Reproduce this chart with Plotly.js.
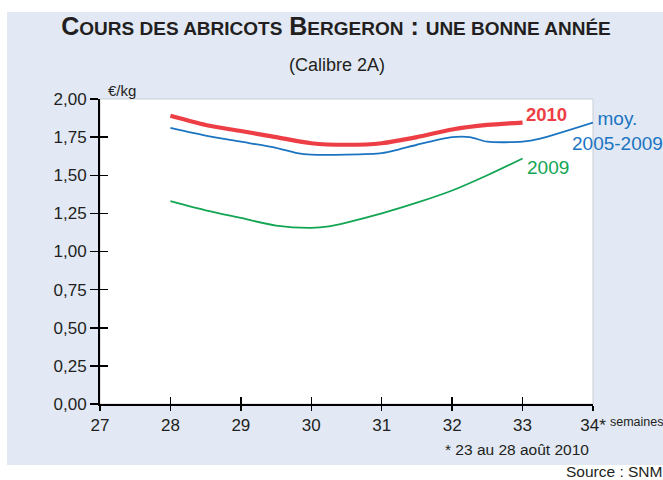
<!DOCTYPE html>
<html>
<head>
<meta charset="utf-8">
<script src="https://cdn.plot.ly/plotly-3.0.1.min.js"></script>
<style>html,body{margin:0;padding:0;background:#fff;}</style>
</head>
<body>
<div id="chart" style="width:663px;height:480px;"></div>
<script>
// Weeks and prices (€/kg)
const weeks2010 = [28, 28.5, 29, 29.5, 30, 30.5, 31, 31.5, 32, 32.5, 33];
const prix2010  = [1.89, 1.83, 1.79, 1.75, 1.71, 1.70, 1.71, 1.75, 1.80, 1.83, 1.845];

const weeksMoy = [28, 28.5, 29, 29.5, 29.8, 30, 30.5, 31, 31.25, 31.5, 32, 32.25, 32.5, 33, 33.25, 34];
const prixMoy  = [1.81, 1.76, 1.72, 1.68, 1.645, 1.635, 1.635, 1.645, 1.67, 1.70, 1.75, 1.75, 1.72, 1.72, 1.74, 1.845];

const weeks2009 = [28, 28.5, 29, 29.5, 30, 30.25, 30.5, 31, 31.5, 32, 32.5, 33];
const prix2009  = [1.33, 1.27, 1.22, 1.17, 1.155, 1.165, 1.19, 1.25, 1.32, 1.40, 1.50, 1.61];

const xTickVals = [27, 28, 29, 30, 31, 32, 33, 34];
const xTickText = ['27', '28', '29', '30', '31', '32', '33', '34*'];
const yTickVals = [0, 0.25, 0.5, 0.75, 1, 1.25, 1.5, 1.75, 2];

const RED = '#ee3e45', BLUE = '#1b74c1', GREEN = '#12a554', TXT = '#231f20';
const FONT = 'Liberation Sans, Arial, sans-serif';

const traces = [
  {x: weeksMoy, y: prixMoy, mode: 'lines', line: {color: BLUE, width: 1.8, shape: 'spline', smoothing: 0.7}, hoverinfo: 'skip'},
  {x: weeks2009, y: prix2009, mode: 'lines', line: {color: GREEN, width: 1.8, shape: 'spline', smoothing: 0.7}, hoverinfo: 'skip', xaxis: 'x2', yaxis: 'y2'},
  {x: weeks2010, y: prix2010, mode: 'lines', line: {color: RED, width: 4.2, shape: 'spline', smoothing: 0.7}, hoverinfo: 'skip'}
];

const last = a => a[a.length - 1];
const SC = '<span style="font-size:19px">';

const layout = {
  width: 663, height: 480,
  margin: {l: 100, r: 70, t: 99, b: 76},
  paper_bgcolor: '#ffffff',
  plot_bgcolor: 'rgba(0,0,0,0)',
  showlegend: false,
  separators: ', ',
  font: {family: FONT, color: TXT},
  title: {
    text: '<b>C' + SC + 'OURS DES ABRICOTS</span> B' + SC + 'ERGERON</span> : ' + SC + 'UNE BONNE ANNÉE</span></b>',
    font: {family: FONT, size: 25, color: TXT},
    xref: 'container', yref: 'container', x: 336/663, xanchor: 'center',
    y: 1 - 26/480, yanchor: 'middle'
  },
  xaxis: {
    range: [27, 34], tickvals: xTickVals, ticktext: xTickText,
    showgrid: false, zeroline: false, showline: true, linecolor: '#000', linewidth: 2,
    ticks: 'outside', ticklen: 5, tickwidth: 1.5, tickcolor: '#000',
    tickfont: {family: FONT, size: 17, color: TXT}, fixedrange: true
  },
  yaxis: {
    range: [0, 2], tickvals: yTickVals, tickformat: '.2f',
    showgrid: false, zeroline: false, showline: true, linecolor: '#000', linewidth: 2,
    ticks: 'outside', ticklen: 8, tickwidth: 1.5, tickcolor: '#000',
    tickfont: {family: FONT, size: 17, color: TXT}, fixedrange: true
  },
  xaxis2: {
    overlaying: 'x', anchor: 'y2', range: [27, 34], tickvals: xTickVals,
    showticklabels: false, showgrid: false, zeroline: false, showline: false,
    ticks: 'inside', ticklen: 7, tickwidth: 1.5, tickcolor: '#000', fixedrange: true
  },
  yaxis2: {
    overlaying: 'y', anchor: 'x2', range: [0, 2], tickvals: yTickVals,
    showticklabels: false, showgrid: false, zeroline: false, showline: false,
    ticks: 'inside', ticklen: 8, tickwidth: 1.5, tickcolor: '#000', fixedrange: true
  },
  shapes: [
    {type: 'rect', xref: 'paper', yref: 'paper', x0: (7-100)/493, x1: (663-100)/493, y0: (404-465)/305, y1: (404-12)/305,
     fillcolor: '#e2e9f5', line: {width: 0}, layer: 'below'},
    {type: 'rect', xref: 'paper', yref: 'paper', x0: 0, x1: 1, y0: 0, y1: 1,
     fillcolor: '#ffffff', line: {color: '#c9ccd3', width: 1}, layer: 'below'}
  ],
  annotations: [
    {text: '(Calibre 2A)', xref: 'paper', yref: 'paper', x: (337-100)/493, y: (404-65)/305,
     xanchor: 'center', yanchor: 'middle', showarrow: false, font: {size: 18, color: TXT}},
    {text: '€/kg', xref: 'x', yref: 'y', x: 27, y: 2, xanchor: 'left', yanchor: 'bottom',
     xshift: 6, yshift: -2, showarrow: false, font: {size: 15, color: TXT}},
    {text: '<b>2010</b>', xref: 'x', yref: 'y', x: last(weeks2010), y: last(prix2010),
     xanchor: 'left', yanchor: 'middle', xshift: 1, yshift: 8, showarrow: false, font: {size: 18.5, color: RED}},
    {text: 'moy.<br>2005-2009', xref: 'x', yref: 'y', x: last(weeksMoy), y: last(prixMoy),
     xanchor: 'center', yanchor: 'middle', xshift: 24, yshift: -8, align: 'center', showarrow: false,
     font: {size: 19, color: BLUE}},
    {text: '2009', xref: 'x', yref: 'y', x: last(weeks2009), y: last(prix2009),
     xanchor: 'left', yanchor: 'middle', xshift: 2, yshift: -9, showarrow: false, font: {size: 19, color: GREEN}},
    {text: 'semaines', xref: 'x', yref: 'paper', x: 34, y: 0, xanchor: 'left', yanchor: 'middle',
     xshift: 15, yshift: -18, showarrow: false, font: {size: 12.5, color: TXT}},
    {text: '* 23 au 28 août 2010', xref: 'paper', yref: 'paper', x: (591-100)/493, y: (404-450)/305,
     xanchor: 'right', yanchor: 'middle', showarrow: false, font: {size: 15.5, color: TXT}},
    {text: 'Source : SNM', xref: 'paper', yref: 'paper', x: (664-100)/493, y: (404-472)/305,
     xanchor: 'right', yanchor: 'middle', showarrow: false, font: {size: 15.5, color: TXT}}
  ]
};

Plotly.newPlot('chart', traces, layout, {staticPlot: true, displayModeBar: false});
</script>
</body>
</html>
